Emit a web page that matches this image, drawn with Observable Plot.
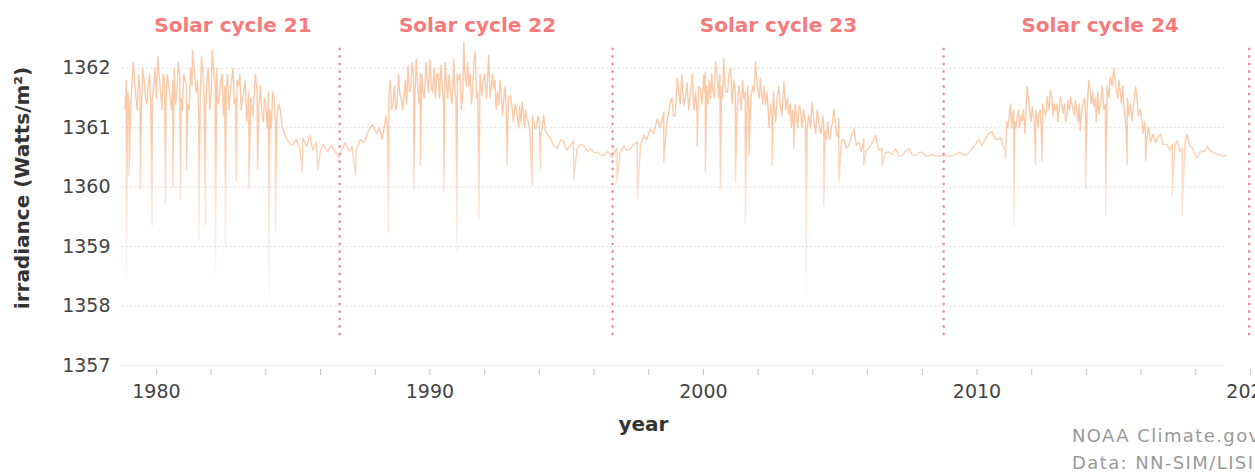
<!DOCTYPE html>
<html><head><meta charset="utf-8">
<script src="https://cdn.jsdelivr.net/npm/d3@7"></script>
<script src="https://cdn.jsdelivr.net/npm/@observablehq/plot@0.6"></script>
<style>
body{margin:0;background:#fff;}
#wrap{position:relative;width:1255px;height:472px;overflow:hidden;background:#fff;}
.credit{position:absolute;left:1072px;top:422px;font-family:"DejaVu Sans";font-size:18px;letter-spacing:1.4px;color:#9a9a9a;line-height:27px;white-space:nowrap;}
</style></head><body><div id="wrap"><div class="credit">NOAA Climate.gov<br>Data: NN-SIM/LISIRD</div></div>
<script>
// Typical daily level of total solar irradiance (W/m²)
const levelYears = [
1978.85,1978.95,1979.05,1979.15,1979.25,1979.35,1979.45,1979.55,1979.65,1979.75,1979.85,1979.95,
1980.05,1980.15,1980.25,1980.35,1980.45,1980.55,1980.65,1980.75,1980.85,1980.95,
1981.05,1981.15,1981.25,1981.32,1981.45,1981.55,1981.65,1981.75,1981.85,1981.95,
1982.04,1982.15,1982.25,1982.35,1982.45,1982.55,1982.65,1982.80,1982.90,
1983.00,1983.10,1983.20,1983.30,1983.45,1983.62,1983.75,1983.86,1983.95,
1984.05,1984.15,1984.25,1984.35,1984.47,1984.60,1984.72,1984.85,1984.96,
1985.10,1985.25,1985.35,1985.50,1985.60,1985.72,1985.85,
1986.00,1986.10,1986.25,1986.40,1986.55,1986.67,1986.80,1986.91,
1987.05,1987.15,1987.30,1987.45,1987.60,1987.75,1987.90,
1988.05,1988.15,1988.25,1988.40,1988.50,1988.60,1988.70,1988.80,1988.90,
1989.00,1989.10,1989.20,1989.30,1989.40,1989.50,1989.60,1989.70,1989.80,1989.90,
1990.00,1990.10,1990.20,1990.30,1990.40,1990.50,1990.60,1990.70,1990.80,1990.87,1990.95,
1991.05,1991.15,1991.24,1991.33,1991.42,1991.52,1991.60,1991.66,1991.75,1991.90,
1992.00,1992.15,1992.25,1992.33,1992.42,1992.52,1992.60,1992.70,1992.80,1992.94,
1993.05,1993.19,1993.28,1993.37,1993.45,1993.55,1993.65,1993.86,1993.95,
1994.05,1994.16,1994.28,1994.41,1994.52,1994.65,1994.78,1994.89,
1995.00,1995.14,1995.25,1995.38,1995.50,1995.63,1995.75,1995.87,
1996.00,1996.11,1996.25,1996.36,1996.50,1996.66,1996.75,1996.84,1996.95,
1997.09,1997.20,1997.33,1997.45,1997.58,1997.70,1997.82,1997.92,
1998.06,1998.18,1998.31,1998.42,1998.55,1998.65,1998.79,1998.90,
1999.04,1999.15,1999.28,1999.40,1999.53,1999.65,1999.77,1999.88,
2000.01,2000.07,2000.17,2000.26,2000.35,2000.44,2000.55,2000.66,2000.74,2000.83,2000.93,
2001.05,2001.17,2001.29,2001.38,2001.48,2001.58,2001.66,2001.80,2001.90,
2002.00,2002.08,2002.17,2002.27,2002.40,2002.51,2002.60,2002.69,2002.80,2002.94,
2003.02,2003.12,2003.22,2003.30,2003.40,2003.49,2003.60,2003.73,2003.85,2003.97,
2004.10,2004.22,2004.31,2004.40,2004.50,2004.58,2004.68,2004.77,2004.86,2004.95,
2005.04,2005.13,2005.22,2005.31,2005.40,2005.50,2005.59,2005.68,2005.77,2005.86,2005.95,
2006.05,2006.17,2006.29,2006.41,2006.53,2006.65,2006.78,2006.90,
2007.02,2007.14,2007.26,2007.38,2007.51,2007.63,2007.75,2007.87,
2008.00,2008.12,2008.24,2008.36,2008.48,2008.62,2008.79,2008.95,
2009.09,2009.22,2009.34,2009.46,2009.58,2009.70,2009.82,2009.95,
2010.07,2010.19,2010.31,2010.43,2010.55,2010.67,2010.80,2010.86,2010.95,
2011.04,2011.13,2011.23,2011.30,2011.38,2011.47,2011.56,2011.65,2011.75,2011.83,2011.92,
2012.02,2012.10,2012.20,2012.26,2012.35,2012.45,2012.57,2012.69,2012.78,2012.87,2012.96,
2013.05,2013.15,2013.24,2013.33,2013.42,2013.51,2013.60,2013.70,2013.78,2013.88,2013.97,
2014.09,2014.18,2014.27,2014.36,2014.45,2014.58,2014.64,2014.76,2014.88,
2015.00,2015.10,2015.19,2015.28,2015.37,2015.45,2015.55,2015.67,2015.80,2015.90,2015.98,
2016.08,2016.16,2016.26,2016.34,2016.44,2016.53,2016.62,2016.71,2016.80,2016.95,
2017.05,2017.14,2017.23,2017.32,2017.41,2017.50,2017.60,2017.68,2017.78,2017.87,2017.96,
2018.05,2018.14,2018.23,2018.33,2018.42,2018.53,2018.66,2018.78,2018.90,
2019.00,2019.12
];
const levelValues = [
1361.3,1361.6,1361.2,1362.1,1361.5,1361.9,1361.3,1361.8,1361.4,1361.9,1361.5,1362.0,
1362.2,1361.6,1361.9,1361.4,1361.7,1361.3,1362.0,1361.6,1361.9,1361.3,
1361.8,1361.4,1362.0,1362.3,1361.6,1361.2,1362.2,1361.5,1361.8,1361.3,
1362.3,1361.7,1361.4,1361.8,1361.2,1361.6,1361.3,1362.0,1361.5,
1361.7,1361.3,1361.6,1361.1,1361.5,1361.9,1361.4,1361.2,1361.5,
1361.0,1361.3,1361.6,1361.1,1361.4,1361.0,1360.85,1360.75,1360.70,
1360.80,1360.65,1360.82,1360.68,1360.87,1360.62,1360.75,
1360.62,1360.72,1360.60,1360.70,1360.58,1360.50,1360.65,1360.75,
1360.60,1360.68,1360.62,1360.80,1360.75,1360.95,1361.05,
1360.90,1361.00,1360.80,1361.20,1361.60,1361.30,1361.70,1361.40,1361.55,
1361.30,1361.80,1362.05,1361.65,1361.90,1362.15,1361.40,1361.90,1361.50,1361.80,
1362.15,1361.60,1361.50,1361.90,1362.05,1361.40,1361.80,1361.90,1361.40,1362.15,1361.50,
1361.80,1361.30,1362.44,1361.70,1361.70,1361.40,1362.10,1362.28,1361.60,1361.55,
1361.90,1362.22,1361.70,1361.66,1361.30,1361.38,1361.60,1361.49,1361.20,1361.54,
1361.10,1361.21,1361.35,1361.43,1361.00,1361.15,1360.95,1360.98,1361.20,
1360.85,1361.21,1360.90,1360.81,1360.70,1360.65,1360.80,1360.76,
1360.62,1360.70,1360.78,1360.65,1360.72,1360.70,1360.60,1360.65,
1360.58,1360.59,1360.55,1360.53,1360.60,1360.50,1360.60,1360.65,1360.58,
1360.70,1360.62,1360.65,1360.72,1360.76,1360.70,1360.87,1360.80,
1360.98,1360.90,1361.15,1361.00,1361.26,1361.05,1361.43,1361.20,
1361.83,1361.40,1361.38,1361.75,1361.60,1361.30,1361.21,1361.65,
1361.88,1361.94,1361.40,1361.49,1361.60,1362.11,1361.50,1361.70,1362.16,1361.60,1361.88,
1361.40,1361.60,1361.71,1361.30,1361.49,1361.20,1361.26,1361.70,1362.11,
1361.60,1361.83,1361.40,1361.38,1361.00,1361.15,1361.30,1361.49,1361.40,1361.77,
1361.30,1361.21,1361.00,1360.98,1361.20,1361.38,1361.00,1361.10,1361.21,1361.43,
1360.90,1361.10,1360.95,1361.04,1360.80,1360.87,1361.00,1361.32,1360.90,1361.15,
1360.75,1360.81,1360.65,1360.70,1360.85,1360.98,1360.70,1360.76,1360.60,1360.81,1360.62,
1360.65,1360.75,1360.87,1360.62,1360.65,1360.58,1360.59,1360.55,
1360.65,1360.52,1360.53,1360.60,1360.65,1360.55,1360.53,1360.58,
1360.59,1360.52,1360.53,1360.55,1360.53,1360.52,1360.53,1360.52,
1360.53,1360.55,1360.59,1360.55,1360.53,1360.58,1360.65,1360.72,
1360.81,1360.70,1360.81,1360.90,1360.93,1360.80,1360.81,1360.84,1360.70,
1360.61,1361.00,1361.40,1361.20,1361.10,1361.18,1361.00,1361.12,1360.90,1361.69,1361.30,
1361.35,1361.00,1361.15,1361.23,1361.00,1361.30,1361.52,1361.63,1361.20,1361.29,1361.10,
1361.52,1361.25,1361.10,1361.46,1361.52,1361.30,1361.46,1361.10,1360.95,1361.40,1361.20,
1361.80,1361.40,1361.35,1361.10,1361.23,1361.69,1361.30,1361.70,1361.86,
1362.00,1361.60,1361.80,1361.40,1361.35,1361.00,1361.20,1361.12,1361.69,1361.20,1361.29,
1360.90,1360.95,1361.00,1360.75,1360.89,1360.75,1360.84,1360.89,1360.72,1360.72,
1360.62,1360.72,1360.70,1360.78,1360.60,1360.66,1360.72,1360.89,1360.70,1360.66,1360.55,
1360.49,1360.58,1360.61,1360.60,1360.69,1360.62,1360.58,1360.55,1360.55,
1360.52,1360.54
];
// Extra day-to-day fluctuations read inside the busy solar-maximum bands
const bandYears = [
1978.90,1979.00,1979.10,1979.20,1979.30,1979.40,1979.50,1979.60,1979.70,1979.80,1979.90,
1980.00,1980.10,1980.20,1980.30,1980.40,1980.50,1980.60,1980.70,1980.80,1980.90,
1981.00,1981.10,1981.20,1981.30,1981.40,1981.50,1981.60,1981.70,1981.80,1981.90,
1982.00,1982.10,1982.20,1982.30,1982.40,1982.50,1982.60,1982.70,1982.85,1982.95,
1983.05,1983.15,1983.25,1983.38,1983.53,1983.68,1983.80,1983.91,
1984.00,1984.10,1984.20,1984.30,1984.41,1984.53,
1988.45,1988.55,1988.65,1988.75,1988.85,1988.95,1989.05,1989.15,1989.25,1989.35,1989.45,1989.55,1989.65,1989.75,1989.85,1989.95,
1990.05,1990.15,1990.25,1990.35,1990.45,1990.55,1990.65,1990.75,1990.84,1990.91,
1991.00,1991.10,1991.20,1991.28,1991.38,1991.47,1991.56,1991.70,1991.83,1991.95,
1992.07,1992.20,1992.29,1992.38,1992.47,1992.56,1992.65,1992.75,1992.87,
1993.00,1993.12,1993.24,1993.33,1993.41,1993.50,1993.60,1993.75,1993.90,
1994.00,1994.10,1994.22,
1998.85,1998.97,1999.10,1999.21,1999.34,1999.46,1999.59,1999.71,1999.82,1999.94,
2000.04,2000.12,2000.21,2000.30,2000.40,2000.50,2000.60,2000.70,2000.78,2000.88,2000.99,
2001.11,2001.23,2001.33,2001.43,2001.53,2001.62,2001.73,2001.85,2001.95,
2002.04,2002.12,2002.22,2002.33,2002.45,2002.56,2002.64,2002.75,2002.87,2002.98,
2003.07,2003.17,2003.26,2003.35,2003.45,2003.55,2003.66,2003.79,2003.91,
2004.04,2004.16,2004.27,2004.36,2004.45,2004.54,2004.63,2004.72,2004.82,2004.91,
2011.09,2011.18,2011.27,2011.34,2011.43,2011.52,2011.61,2011.70,2011.79,2011.88,2011.97,
2012.06,2012.15,2012.23,2012.31,2012.40,2012.51,2012.63,2012.74,2012.83,2012.92,
2013.00,2013.10,2013.20,2013.29,2013.38,2013.47,2013.56,2013.65,2013.74,2013.83,2013.93,
2014.03,2014.14,2014.23,2014.32,2014.41,2014.52,2014.61,2014.70,2014.82,2014.94,
2015.05,2015.15,2015.24,2015.33,2015.41,2015.50,2015.61,2015.73,2015.85,2015.94,
2016.03,2016.12,2016.21,2016.30
];
const bandValues = [
1361.8,1361.4,1361.7,1361.8,1361.3,1361.6,1362.0,1361.5,1361.7,1361.2,1361.7,
1361.5,1361.9,1361.3,1361.8,1361.9,1361.5,1361.8,1361.4,1362.1,1361.5,
1361.9,1361.7,1361.3,1361.7,1361.9,1361.8,1361.5,1361.9,1361.3,1362.0,
1361.6,1361.9,1362.0,1361.5,1361.9,1361.7,1361.9,1361.6,1361.4,1361.8,
1361.9,1361.5,1361.8,1361.6,1361.2,1361.6,1361.7,1361.1,
1361.4,1361.6,1361.0,1361.5,1361.2,1361.3,
1361.0,1361.8,1361.4,1361.3,1361.9,1361.5,1361.5,1361.4,1361.6,1362.1,1361.5,1361.7,1361.9,1361.6,1362.1,1361.6,
1361.7,1362.0,1361.9,1361.5,1361.7,1362.1,1361.5,1361.6,1361.7,1361.6,
1361.9,1361.9,1361.6,1361.9,1362.1,1361.9,1361.6,1361.5,1361.9,1361.8,
1361.5,1361.5,1361.9,1361.8,1361.6,1361.8,1361.2,1361.7,1361.5,
1361.35,1361.4,1361.0,1361.1,1361.3,1361.3,1361.1,1361.2,1361.0,
1361.1,1361.0,1360.95,
1361.5,1361.2,1361.6,1361.9,1361.5,1361.3,1361.9,1361.6,1361.7,1361.4,
1361.6,1361.7,1361.8,1361.9,1361.5,1361.9,1361.9,1361.5,1361.7,1361.6,1362.0,
1361.8,1361.3,1361.6,1361.8,1361.6,1361.7,1361.5,1361.6,1361.8,
1361.5,1361.6,1361.7,1361.6,1361.4,1361.6,1361.1,1361.7,1361.2,1361.5,
1361.5,1361.4,1361.3,1361.4,1361.0,1361.3,1361.3,1361.0,1361.0,
1361.1,1361.3,1360.9,1361.2,1360.95,1361.1,1360.8,1361.1,1361.1,1360.85,
1361.1,1361.2,1361.0,1361.3,1361.0,1361.3,1361.2,1361.3,1361.3,1361.5,1361.1,
1361.2,1361.3,1361.0,1361.3,1361.4,1361.2,1361.3,1361.5,1361.4,1361.4,
1361.3,1361.4,1361.4,1361.2,1361.3,1361.4,1361.2,1361.3,1361.4,1361.3,1361.5,
1361.4,1361.6,1361.6,1361.5,1361.6,1361.4,1361.5,1361.4,1361.5,1361.7,
1361.8,1361.5,1361.6,1361.7,1361.2,1361.5,1361.4,1361.4,1361.5,1361.3,
1361.1,1361.1,1360.8,1360.95
];
// Short sunspot-driven dips below the typical level
const dipYears = [
1978.90,1979.00,1979.41,1979.84,1980.33,1980.60,1980.88,1981.10,1981.55,1981.79,1982.16,1982.52,1982.92,1983.38,1983.70,1984.11,1984.35,1985.33,1985.90,
1987.28,1988.49,1989.41,1989.65,1990.51,1990.99,1991.79,1992.82,1993.74,1994.04,1995.26,1996.84,1997.58,1998.55,1999.77,
2000.07,2000.62,2001.17,2001.53,2001.66,2002.51,2003.30,2003.76,2004.40,2004.95,2005.86,2006.53,
2011.04,2011.35,2012.14,2012.38,2013.97,2014.70,2015.49,2016.16,2017.14,2017.50
];
const dipValues = [
1358.4,1360.2,1359.97,1359.35,1359.74,1360.0,1359.80,1360.3,1359.12,1359.35,1358.56,1359.01,1360.1,1359.97,1360.3,1358.11,1359.24,1360.25,1360.3,
1360.19,1359.24,1359.97,1360.37,1359.92,1358.9,1359.47,1360.37,1360.03,1360.31,1360.14,1360.08,1359.80,1360.42,1360.70,
1360.25,1359.97,1360.08,1359.4,1360.53,1360.37,1360.65,1358.2,1359.69,1360.08,1360.37,1360.37,
1360.49,1359.36,1360.38,1360.44,1359.98,1359.53,1360.38,1360.44,1359.87,1359.53
];
const cycleLabels = ["Solar cycle 21","Solar cycle 22","Solar cycle 23","Solar cycle 24"];
const cycleLabelYears = [1982.8,1991.74,2002.74,2014.5];
const cycleBoundaries = [1986.7,1996.68,2008.78,2019.95];
const yTicks = [1357,1358,1359,1360,1361,1362];
const xTickLabels = [1980,1990,2000,2010,2020];
const xMinorTicks = [1980,1982,1984,1986,1988,1990,1992,1994,1996,1998,2000,2002,2004,2006,2008,2010,2012,2014,2016,2018,2020];
const xLabel = "year";
const yLabel = "irradiance (Watts/m²)";

const series = levelYears.map((y,i)=>({year:y,value:levelValues[i]}))
  .concat(bandYears.map((y,i)=>({year:y,value:bandValues[i]})))
  .concat(dipYears.map((y,i)=>({year:y,value:dipValues[i]})))
  .sort((a,b)=>a.year-b.year);
const xDomain = [1978.76, 2020];
const yDomain = [1357, 1362.4];

const chart = Plot.plot({
  width: 1255, height: 472,
  marginLeft: 122, marginRight: 5, marginTop: 44, marginBottom: 107,
  x: {domain: xDomain},
  y: {domain: yDomain},
  style: {fontFamily: "DejaVu Sans", background: "#fff", overflow: "visible"},
  marks: [
    Plot.ruleY(yTicks, {y: d=>d, x1: xDomain[0], x2: levelYears[levelYears.length-1], stroke: "#d8d8d8", strokeDasharray: "1.5,2.5"}),
    Plot.ruleX(cycleBoundaries, {x: d=>d, y1: 1357.5, y2: yDomain[1], stroke: "#f3879b", strokeWidth: 2.2, strokeDasharray: "2.5,5"}),
    Plot.line(series, {x: "year", y: "value", stroke: "url(#irrGrad)", strokeWidth: 1.4, strokeLinejoin: "round"}),
    Plot.axisY(yTicks, {tickSize: 0, tickPadding: 12, fontSize: 19, color: "#444", label: null, tickFormat: d=>String(d)}),
    Plot.axisX(xMinorTicks, {tickSize: 6, tickFormat: () => "", stroke: "#c4c4c4", label: null, dy: 4}),
    Plot.axisX(xTickLabels, {tickSize: 0, tickPadding: 19, fontSize: 19, color: "#444", label: null, tickFormat: d=>String(d)}),
    Plot.text(cycleLabels, {x: (d,i)=>cycleLabelYears[i], text: d=>d, frameAnchor: "top", lineAnchor: "middle", dy: -19, fontSize: 20, fontWeight: "bold", fill: "#f77b7b"}),
    Plot.text([yLabel], {text: d=>d, frameAnchor: "left", textAnchor: "middle", lineAnchor: "middle", rotate: -90, dx: -100, dy: -17, fontSize: 20, fontWeight: "bold", fill: "#333"}),
    Plot.text([xLabel], {text: d=>d, frameAnchor: "bottom", lineAnchor: "middle", dx: -43, dy: 59, fontSize: 20, fontWeight: "bold", fill: "#333"})
  ]
});
const ys = chart.scale("y");
const defs = d3.select(chart).insert("defs", ":first-child");
const grad = defs.append("linearGradient").attr("id","irrGrad").attr("gradientUnits","userSpaceOnUse")
  .attr("x1",0).attr("x2",0).attr("y1", ys.apply(1360.9)).attr("y2", ys.apply(1358.0));
grad.append("stop").attr("offset",0).attr("stop-color","#f7aa74").attr("stop-opacity",0.62);
grad.append("stop").attr("offset",0.3).attr("stop-color","#f7ae7b").attr("stop-opacity",0.38);
grad.append("stop").attr("offset",1).attr("stop-color","#f8b890").attr("stop-opacity",0.06);
d3.select(chart).style("position","absolute").style("left","0").style("top","0");
const wrap = document.getElementById("wrap");
wrap.insertBefore(chart, wrap.firstChild);
</script>
</body></html>
